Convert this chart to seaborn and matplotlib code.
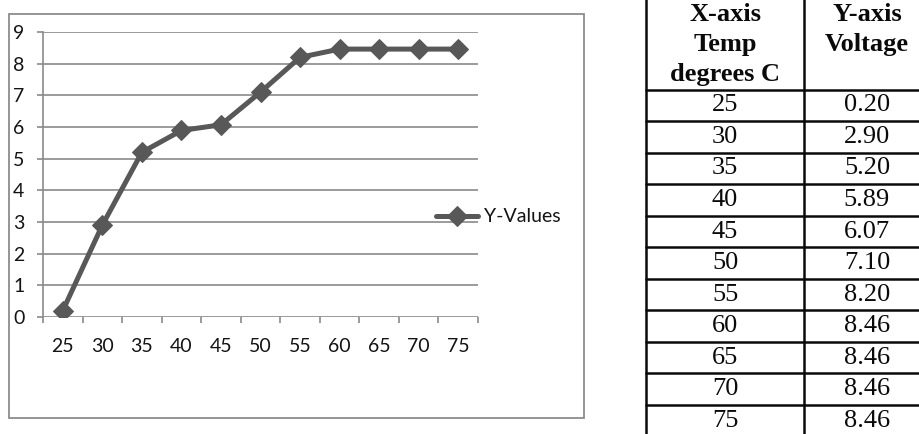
import matplotlib
matplotlib.use("Agg")
import matplotlib.pyplot as plt
from matplotlib.patches import Rectangle
import seaborn as sns
import pandas as pd

# ---- data ----
temps = [25, 30, 35, 40, 45, 50, 55, 60, 65, 70, 75]
volts = [0.20, 2.90, 5.20, 5.89, 6.07, 7.10, 8.20, 8.46, 8.46, 8.46, 8.46]
series_name = "Y-Values"
y_ticks = [0, 1, 2, 3, 4, 5, 6, 7, 8, 9]
header_x = ["X-axis", "Temp", "degrees C"]
header_y = ["Y-axis", "Voltage"]
volt_labels = ["0.20", "2.90", "5.20", "5.89", "6.07", "7.10", "8.20", "8.46", "8.46", "8.46", "8.46"]

sns.set_theme(style="white")
plt.rcParams["font.family"] = ["Lato", "DejaVu Sans"]

W, H = 920, 434
fig = plt.figure(figsize=(W / 100, H / 100), dpi=100)
fig.patch.set_facecolor("white")

def fx(px):
    return px / W

def fy(py):
    return 1 - py / H

# outer chart box
fig.patches.append(Rectangle((fx(9), fy(418)), fx(584) - fx(9), fy(14) - fy(418),
                             transform=fig.transFigure, fill=False,
                             edgecolor="#8c8c8c", linewidth=1.3, zorder=0))

# ---- chart ----
ax = fig.add_axes([fx(43), fy(317), fx(478) - fx(43), fy(32) - fy(317)])
df = pd.DataFrame({"Temp": temps, "Voltage": volts})
line_color = "#585858"
sns.lineplot(data=df, x="Temp", y="Voltage", ax=ax, color=line_color, linewidth=3.6,
             marker="D", markersize=10, markeredgecolor=line_color,
             markerfacecolor=line_color, label=series_name, legend=False)

ax.set_xlim(22.5, 77.5)
ax.set_ylim(0, 9)
ax.set_xlabel("")
ax.set_ylabel("")
ax.set_yticks(y_ticks)
ax.set_yticklabels([str(v) for v in y_ticks])
ax.set_xticks(temps)
ax.set_xticklabels([str(t) for t in temps])
ax.set_xticks([t - 2.5 for t in temps] + [temps[-1] + 2.5], minor=True)

grid_c = "#8a8a8a"
for v in y_ticks:
    ax.axhline(v, color=grid_c, linewidth=1.2, zorder=0)

for s in ["top", "right", "bottom"]:
    ax.spines[s].set_visible(False)
ax.spines["left"].set_color(grid_c)
ax.spines["left"].set_linewidth(1.2)

ax.tick_params(axis="y", which="major", direction="out", length=4.3, width=1.2,
               color=grid_c, pad=9, labelsize=14, labelcolor="#141414", left=True)
ax.tick_params(axis="x", which="major", length=0, pad=15, labelsize=14, labelcolor="#141414")
ax.tick_params(axis="x", which="minor", direction="out", length=4, width=1.2,
               color=grid_c, bottom=True)
ax.set_facecolor("none")

handles, labels = ax.get_legend_handles_labels()
fig.legend(handles, labels, loc="center left", bbox_to_anchor=(fx(436), fy(217)),
           frameon=False, fontsize=14, handlelength=2.15, handletextpad=0.3,
           borderpad=0, borderaxespad=0, labelcolor="#141414")

# ---- table ----
tx0, tx1 = 646, 930
tax = fig.add_axes([fx(tx0), fy(436.5), fx(tx1) - fx(tx0), fy(-5) - fy(436.5)])
tax.set_xlim(0, 1)
tax.set_ylim(11, -3.0)
tax.axis("off")
div = (804 - tx0) / (tx1 - tx0)
lc = "#0a0a0a"
for r in range(0, 12):
    tax.plot([0, 1], [r, r], color=lc, linewidth=1.8, clip_on=False)
tax.plot([0, 1], [-3.0, -3.0], color=lc, linewidth=1.8, clip_on=False)
for xv in [0, div, 1]:
    tax.plot([xv, xv], [-3.0, 11], color=lc, linewidth=1.8, clip_on=False)

serif = ["Liberation Serif", "DejaVu Serif"]
hdr_rows = [(15 - 90) / 31.5, (45 - 90) / 31.5, (75 - 90) / 31.5]
for i, t in enumerate(header_x):
    tax.text(div / 2, hdr_rows[i], t, ha="center", va="center", fontsize=19,
             fontweight="bold", family=serif, color="#0a0a0a")
for i, t in enumerate(header_y):
    tax.text((div + 1) / 2, hdr_rows[i], t, ha="center", va="center", fontsize=19,
             fontweight="bold", family=serif, color="#0a0a0a")
for i, (t, v) in enumerate(zip(temps, volt_labels)):
    tax.text(div / 2, i + 0.5, str(t), ha="center", va="center", fontsize=19,
             family=serif, color="#0a0a0a")
    tax.text((div + 1) / 2, i + 0.5, v, ha="center", va="center", fontsize=19,
             family=serif, color="#0a0a0a")

fig.savefig("out.png", dpi=100, facecolor="white")
